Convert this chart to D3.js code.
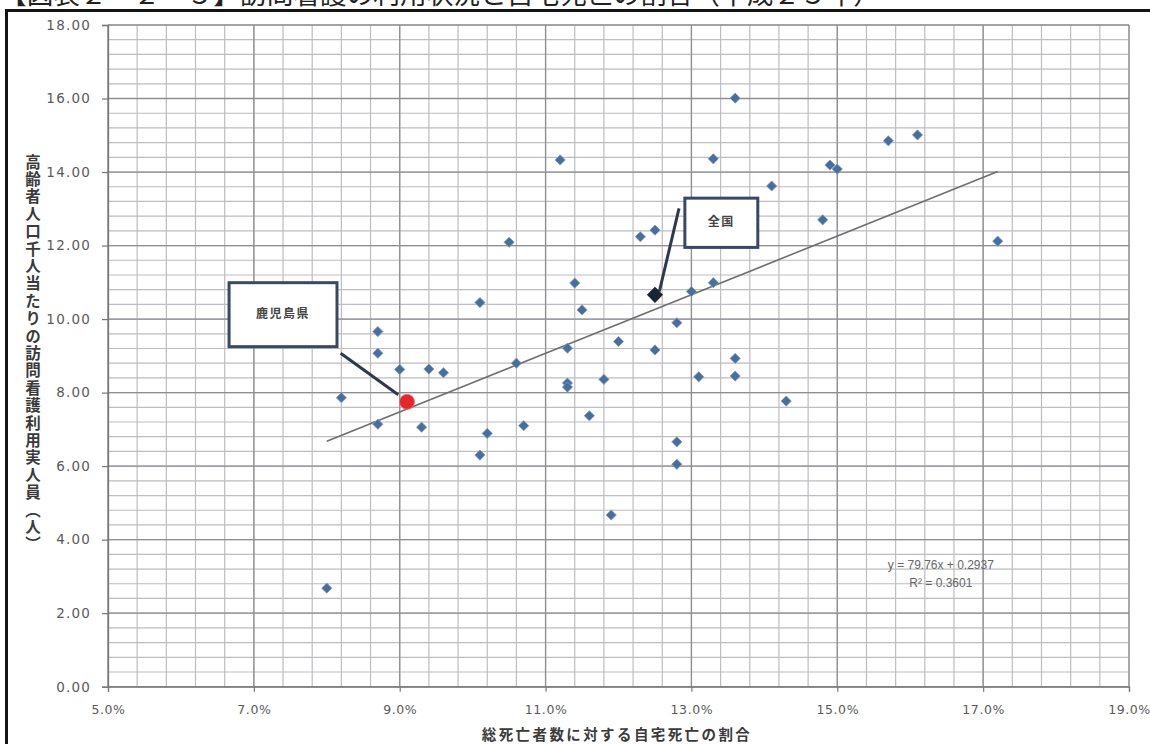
<!DOCTYPE html>
<html><head><meta charset="utf-8">
<script src="https://cdn.jsdelivr.net/npm/d3@7/dist/d3.min.js"></script>
<style>html,body{margin:0;padding:0;background:#fff;overflow:hidden}</style>
</head><body><svg id="c" width="1150" height="744"></svg>
<script>
// ---------- data ----------
const titleText = "【図表２－２－５】訪問看護の利用状況と自宅死亡の割合（平成２５年）";
const xAxisTitle = "総死亡者数に対する自宅死亡の割合";
const yAxisTitle = "高齢者人口千人当たりの訪問看護利用実人員（人）";
const xTickValues = [5, 7, 9, 11, 13, 15, 17, 19];
const xTickLabels = ["5.0%", "7.0%", "9.0%", "11.0%", "13.0%", "15.0%", "17.0%", "19.0%"];
const yTickValues = [0, 2, 4, 6, 8, 10, 12, 14, 16, 18];
const yTickLabels = ["0.00", "2.00", "4.00", "6.00", "8.00", "10.00", "12.00", "14.00", "16.00", "18.00"];
const minorStep = 0.4;
// prefectures: home-death share (%) and visiting-nurse users per 1000 elderly
const prefX = [8.0, 8.2, 8.7, 8.7, 8.7, 9.0, 9.4, 9.6, 9.3, 10.1, 10.1, 10.2, 10.5, 10.6, 10.7,
  11.2, 11.4, 11.5, 11.3, 11.3, 11.3, 12.0, 11.8, 11.6, 11.9, 12.3, 12.5, 12.5, 12.8, 12.8, 12.8,
  13.0, 13.3, 13.1, 13.6, 13.6, 13.3, 13.6, 14.1, 14.3, 14.8, 14.9, 15.0, 15.7, 16.1, 17.2];
const prefY = [2.68, 7.86, 9.66, 9.07, 7.14, 8.63, 8.64, 8.54, 7.06, 10.45, 6.30, 6.89, 12.09, 8.80, 7.10,
  14.33, 10.98, 10.25, 9.21, 8.26, 8.15, 9.39, 8.36, 7.37, 4.67, 12.24, 12.42, 9.16, 9.90, 6.66, 6.05,
  10.75, 10.99, 8.43, 8.93, 8.45, 14.36, 16.01, 13.62, 7.77, 12.70, 14.19, 14.08, 14.85, 15.01, 12.12];
const kagoshimaName = "鹿児島県";
const kagoshimaX = [9.1];
const kagoshimaY = [7.75];
const nationalName = "全国";
const nationalX = [12.5];
const nationalY = [10.66];
const trendSlope = 79.76;
const trendIntercept = 0.2937;
const trendXRange = [8.0, 17.2];
const equationLines = ["y = 79.76x + 0.2937", "R² = 0.3601"];

// ---------- layout (annotation placement in data units) ----------
const kagoBox = {x0: 6.66, x1: 8.14, y0: 10.99, y1: 9.25};
const kagoLeader = {x0: 8.19, y0: 9.07, x1: 8.98, y1: 7.94};
const natBox = {x0: 12.91, x1: 13.91, y0: 13.29, y1: 11.95};
const natLeader = {x0: 12.83, y0: 13.01, x1: 12.56, y1: 10.75};
const eqPos = {x: 16.42, y: 3.3};

// ---------- drawing ----------
const svg = d3.select("#c");
const x = d3.scaleLinear().domain([5, 19]).range([108, 1129]);
const y = d3.scaleLinear().domain([0, 18]).range([686.7, 25]);

svg.append("rect").attr("width", 1150).attr("height", 744).attr("fill", "#fff");

// title (clipped at top of image)
svg.append("text").attr("x", 0).attr("y", 4)
  .attr("font-family", "'Noto Sans CJK JP'").attr("font-size", 26).attr("fill", "#222")
  .attr("textLength", 880).attr("lengthAdjust", "spacingAndGlyphs")
  .text(titleText);

// outer frame
svg.append("rect").attr("x", 6.5).attr("y", 10.5).attr("width", 1200).attr("height", 800)
  .attr("fill", "none").attr("stroke", "#151515").attr("stroke-width", 3);

// gridlines
const xMinor = d3.range(0, 35 + 1).map(i => 5 + i * minorStep);
const yMinor = d3.range(0, 45 + 1).map(i => i * minorStep);
const grid = svg.append("g");
grid.selectAll(".vx").data(xMinor).join("line")
  .attr("x1", d => x(d)).attr("x2", d => x(d)).attr("y1", y(18)).attr("y2", y(0))
  .attr("stroke", "#bdbdc2").attr("stroke-width", 1.2);
grid.selectAll(".hy").data(yMinor).join("line")
  .attr("y1", d => y(d)).attr("y2", d => y(d)).attr("x1", x(5)).attr("x2", x(19))
  .attr("stroke", "#bdbdc2").attr("stroke-width", 1.2);
grid.selectAll(".vxM").data(xTickValues).join("line")
  .attr("x1", d => x(d)).attr("x2", d => x(d)).attr("y1", y(18)).attr("y2", y(0))
  .attr("stroke", "#8e8e94").attr("stroke-width", 1.3);
grid.selectAll(".hyM").data(yTickValues).join("line")
  .attr("y1", d => y(d)).attr("y2", d => y(d)).attr("x1", x(5)).attr("x2", x(19))
  .attr("stroke", "#8e8e94").attr("stroke-width", 1.3);

// axes
const yAxis = d3.axisLeft(y).tickValues(yTickValues).tickSize(6).tickPadding(11)
  .tickFormat((d, i) => yTickLabels[i]);
const gy = svg.append("g").attr("transform", `translate(${x(5)},0)`).call(yAxis);
const xAxis = d3.axisBottom(x).tickValues(xTickValues).tickSize(5).tickPadding(13)
  .tickFormat((d, i) => xTickLabels[i]);
const gx = svg.append("g").attr("transform", `translate(0,${y(0)})`).call(xAxis);
[gx, gy].forEach(g => {
  g.select(".domain").attr("stroke", "#777").attr("stroke-width", 1.3);
  g.selectAll(".tick line").attr("stroke", "#777").attr("stroke-width", 1.2);
  g.selectAll(".tick text").attr("fill", "#5a5a5a").attr("font-family", "'DejaVu Sans'")
    .attr("font-size", 12.5).attr("letter-spacing", 0.6);
});
gy.selectAll(".tick text").attr("font-size", 13.5).attr("letter-spacing", 1.2);

// axis titles
svg.append("text").attr("x", 33).attr("y", 354)
  .attr("writing-mode", "vertical-rl").attr("text-anchor", "middle")
  .attr("font-family", "'Noto Sans CJK JP'").attr("font-weight", "bold")
  .attr("font-size", 15.5).attr("letter-spacing", 1.9).attr("fill", "#3a3a3a")
  .text(yAxisTitle);
svg.append("text").attr("x", 617).attr("y", 740).attr("text-anchor", "middle")
  .attr("font-family", "'Noto Sans CJK JP'").attr("font-weight", "bold")
  .attr("font-size", 14.5).attr("letter-spacing", 2.4).attr("fill", "#3a3a3a")
  .text(xAxisTitle);

// trendline
svg.append("line")
  .attr("x1", x(trendXRange[0])).attr("y1", y(trendSlope * trendXRange[0] / 100 + trendIntercept))
  .attr("x2", x(trendXRange[1])).attr("y2", y(trendSlope * trendXRange[1] / 100 + trendIntercept))
  .attr("stroke", "#6e6e6e").attr("stroke-width", 1.6);

// equation
svg.append("g").selectAll("text").data(equationLines).join("text")
  .attr("x", x(eqPos.x)).attr("y", (d, i) => y(eqPos.y) + 4 + i * 18)
  .attr("text-anchor", "middle").attr("font-family", "'Liberation Sans'")
  .attr("font-size", 12).attr("fill", "#666").text(d => d);

// prefecture markers
const prefData = prefX.map((v, i) => ({x: v, y: prefY[i]}));
const diamond = d3.symbol().type(d3.symbolSquare).size(52);
svg.append("g").selectAll("path").data(prefData).join("path")
  .attr("d", diamond)
  .attr("transform", d => `translate(${x(d.x)},${y(d.y)}) rotate(45)`)
  .attr("fill", "#4a6e9c").attr("stroke", "#7d9cc4").attr("stroke-width", 0.8);

// annotation: Kagoshima
function box(b, label) {
  svg.append("rect").attr("x", x(b.x0)).attr("y", y(b.y0))
    .attr("width", x(b.x1) - x(b.x0)).attr("height", y(b.y1) - y(b.y0))
    .attr("fill", "#fff").attr("stroke", "#3b4768").attr("stroke-width", 3);
  svg.append("text").attr("x", (x(b.x0) + x(b.x1)) / 2).attr("y", (y(b.y0) + y(b.y1)) / 2 + 3)
    .attr("text-anchor", "middle").attr("font-family", "'Noto Sans CJK JP'")
    .attr("font-weight", "bold").attr("font-size", 12).attr("letter-spacing", 1.5)
    .attr("fill", "#444").text(label);
}
function leader(l) {
  svg.append("line").attr("x1", x(l.x0)).attr("y1", y(l.y0)).attr("x2", x(l.x1)).attr("y2", y(l.y1))
    .attr("stroke", "#2d3950").attr("stroke-width", 3);
}
box(kagoBox, kagoshimaName);
leader(kagoLeader);
box(natBox, nationalName);
leader(natLeader);

svg.append("g").selectAll("circle").data(kagoshimaX.map((v, i) => ({x: v, y: kagoshimaY[i]})))
  .join("circle").attr("cx", d => x(d.x)).attr("cy", d => y(d.y)).attr("r", 7.5)
  .attr("fill", "#e5262b").attr("stroke", "#f07070").attr("stroke-width", 0.8);

const bigDiamond = d3.symbol().type(d3.symbolSquare).size(130);
svg.append("g").selectAll("path").data(nationalX.map((v, i) => ({x: v, y: nationalY[i]})))
  .join("path").attr("d", bigDiamond)
  .attr("transform", d => `translate(${x(d.x)},${y(d.y)}) rotate(45)`)
  .attr("fill", "#1b2433");
</script>
</body></html>
